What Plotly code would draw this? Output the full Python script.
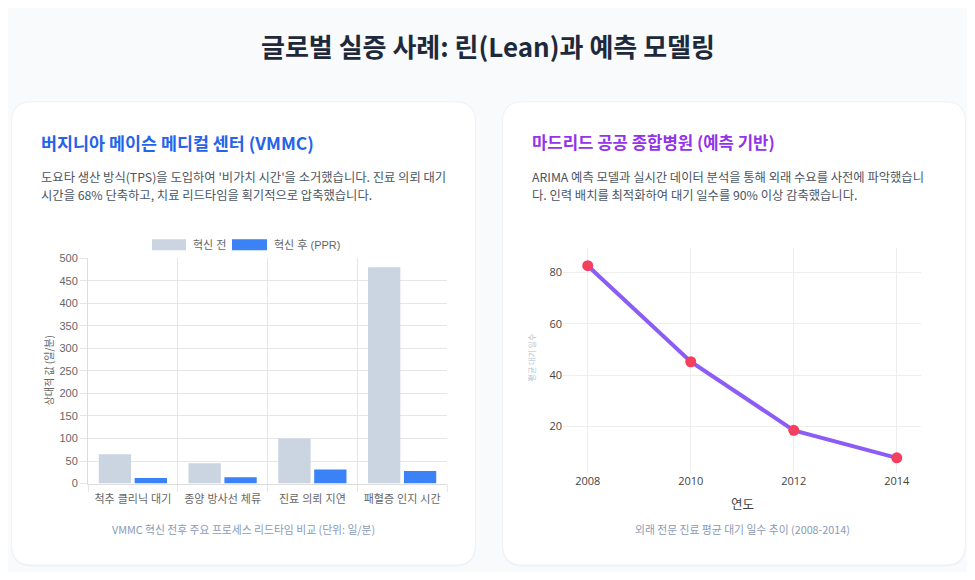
import plotly.graph_objects as go

# page body has an 8px margin, so the figure is 16px smaller than the window
OFF = 8
W, H = 975 - 2 * OFF, 580 - 2 * OFF
# the snapshot squeezes the page a little vertically: img_y = SY0 + SY * page_y
SY0, SY = 6.0, 0.978

# ---- data ----
categories = ["척추 클리닉 대기", "종양 방사선 체류", "진료 의뢰 지연", "패혈증 인지 시간"]
before_vals = [65, 45, 100, 480]
after_vals = [12, 14, 31, 28]
series_names = ["혁신 전", "혁신 후 (PPR)"]

years = [2008, 2010, 2012, 2014]
wait_days = [82.6, 45.2, 18.5, 7.8]

bar_colors = ["#cbd5e1", "#3b82f6"]


# positions below are in picture pixels
def px(x):
    return (x - OFF) / W


def py(y):
    page_y = (y - SY0) / SY
    return 1 - (page_y - OFF) / H


def rounded_rect(x0, y0, x1, y1, r):
    rx, ry = r / W, r / (H * SY)
    a, b, c, d = px(x0), py(y0), px(x1), py(y1)
    return (f"M{a + rx},{b} L{c - rx},{b} Q{c},{b} {c},{b - ry} "
            f"L{c},{d + ry} Q{c},{d} {c - rx},{d} L{a + rx},{d} "
            f"Q{a},{d} {a},{d + ry} L{a},{b - ry} Q{a},{b} {a + rx},{b} Z")


fig = go.Figure()

# left: grouped bars (chart.js look)
fig.add_trace(go.Bar(x=categories, y=before_vals, name=series_names[0],
                     marker=dict(color=bar_colors[0], line=dict(width=0)),
                     xaxis="x", yaxis="y", showlegend=False,
                     hovertemplate="%{x}: %{y}<extra>" + series_names[0] + "</extra>"))
fig.add_trace(go.Bar(x=categories, y=after_vals, name=series_names[1],
                     marker=dict(color=bar_colors[1], line=dict(width=0)),
                     xaxis="x", yaxis="y", showlegend=False,
                     hovertemplate="%{x}: %{y}<extra>" + series_names[1] + "</extra>"))

# right: line with markers
fig.add_trace(go.Scatter(x=years, y=wait_days, mode="lines+markers",
                         line=dict(color="#8b5cf6", width=4),
                         marker=dict(color="#f43f5e", size=11),
                         xaxis="x2", yaxis="y2", showlegend=False,
                         hovertemplate="%{x}년: %{y}일<extra></extra>"))

shapes = []
# cards with faint shadow
for (x0, x1) in [(12, 475), (503, 965)]:
    shapes.append(dict(type="path", xref="paper", yref="paper",
                       path=rounded_rect(x0 - 1, 101, x1 + 1, 566, 21),
                       fillcolor="#eef1f5", line=dict(width=0), layer="below"))
    shapes.append(dict(type="path", xref="paper", yref="paper",
                       path=rounded_rect(x0, 102, x1, 564, 20),
                       fillcolor="#ffffff", line=dict(width=0), layer="below"))

# chart.js-style legend boxes
legend_boxes = [(152, 186), (232, 267)]
legend_text_x = [191, 272]
annotations = []
for i, name in enumerate(series_names):
    b0, b1 = legend_boxes[i]
    shapes.append(dict(type="rect", xref="paper", yref="paper",
                       x0=px(b0), x1=px(b1), y0=py(250), y1=py(239),
                       fillcolor=bar_colors[i], line=dict(width=0)))
    annotations.append(dict(text=name, xref="paper", yref="paper",
                            x=px(legend_text_x[i]), y=py(244.5), xanchor="left", yanchor="middle",
                            showarrow=False, font=dict(size=11, color="#666666",
                                                       family="Liberation Sans, Noto Sans CJK KR")))

kr = "Noto Sans CJK KR"


def text(t, x, y, size, color, bold=False, xanchor="left", angle=0):
    annotations.append(dict(text=f"<b>{t}</b>" if bold else t, xref="paper", yref="paper",
                            x=px(x), y=py(y), xanchor=xanchor, yanchor="middle",
                            showarrow=False, textangle=angle,
                            font=dict(size=size, color=color, family=kr)))


text("글로벌 실증 사례: 린(Lean)과 예측 모델링", 487.5, 45, 26, "#1e293b", bold=True, xanchor="center")

text("버지니아 메이슨 메디컬 센터 (VMMC)", 39, 142, 17.4, "#2563eb", bold=True)
text("도요타 생산 방식(TPS)을 도입하여 '비가치 시간'을 소거했습니다. 진료 의뢰 대기", 39, 177, 12.3, "#4b5563")
text("시간을 68% 단축하고, 치료 리드타임을 획기적으로 압축했습니다.", 39, 195, 12.3, "#4b5563")

text("마드리드 공공 종합병원 (예측 기반)", 530, 142, 16.7, "#9333ea", bold=True)
text("ARIMA 예측 모델과 실시간 데이터 분석을 통해 외래 수요를 사전에 파악했습니", 530, 177, 12.3, "#4b5563")
text("다. 인력 배치를 최적화하여 대기 일수를 90% 이상 감축했습니다.", 530, 195, 12.3, "#4b5563")

text("VMMC 혁신 전후 주요 프로세스 리드타임 비교 (단위: 일/분)", 243, 528, 10.8, "#8b9ab8", xanchor="center")
text("외래 전문 진료 평균 대기 일수 추이 (2008-2014)", 742, 528, 10.8, "#8b9ab8", xanchor="center")

text("상대적 값 (일/분)", 48, 370, 10, "#666666", xanchor="center", angle=-90)
text("평균 대기 일수", 531, 357, 8, "#b4bfd0", xanchor="center", angle=-90)
text("연도", 742, 503, 12.5, "#444444", xanchor="center")

grid = "#e6e6e6"
cj = "Liberation Sans, Noto Sans CJK KR"

fig.update_layout(
    width=W, height=H,
    margin=dict(l=0, r=0, t=0, b=0),
    paper_bgcolor="#f8fafc", plot_bgcolor="rgba(0,0,0,0)",
    font=dict(family=kr, color="#444444"),
    barmode="group", bargap=0.2, bargroupgap=0.1,
    shapes=shapes, annotations=annotations,
    xaxis=dict(domain=[px(88), px(447)], anchor="y", tickson="boundaries",
               showgrid=True, gridcolor=grid, ticks="outside", ticklen=7, tickcolor=grid,
               ticklabelstandoff=5,
               showline=True, linecolor="#dddddd", tickfont=dict(size=11, color="#666666", family=cj),
               fixedrange=True),
    yaxis=dict(domain=[py(483), py(258)], anchor="x", range=[0, 500], dtick=50,
               showgrid=True, gridcolor=grid, ticks="outside", ticklen=7, tickcolor=grid,
               showline=True, linecolor="#dddddd", zeroline=False,
               tickfont=dict(size=11, color="#666666", family=cj), fixedrange=True),
    xaxis2=dict(domain=[px(563), px(921)], anchor="y2", range=[2007.52, 2014.47],
                tickvals=years, showgrid=True, gridcolor="#eeeeee", zeroline=False,
                showline=False, tickfont=dict(size=11, color="#444444", family="Open Sans"),
                fixedrange=True),
    yaxis2=dict(domain=[py(472), py(248)], anchor="x2", range=[2.08, 89.35],
                tickvals=[20, 40, 60, 80], showgrid=True, gridcolor="#eeeeee", zeroline=False,
                showline=False, tickfont=dict(size=11, color="#444444", family="Open Sans"),
                fixedrange=True),
)

fig.write_html("out.html")
